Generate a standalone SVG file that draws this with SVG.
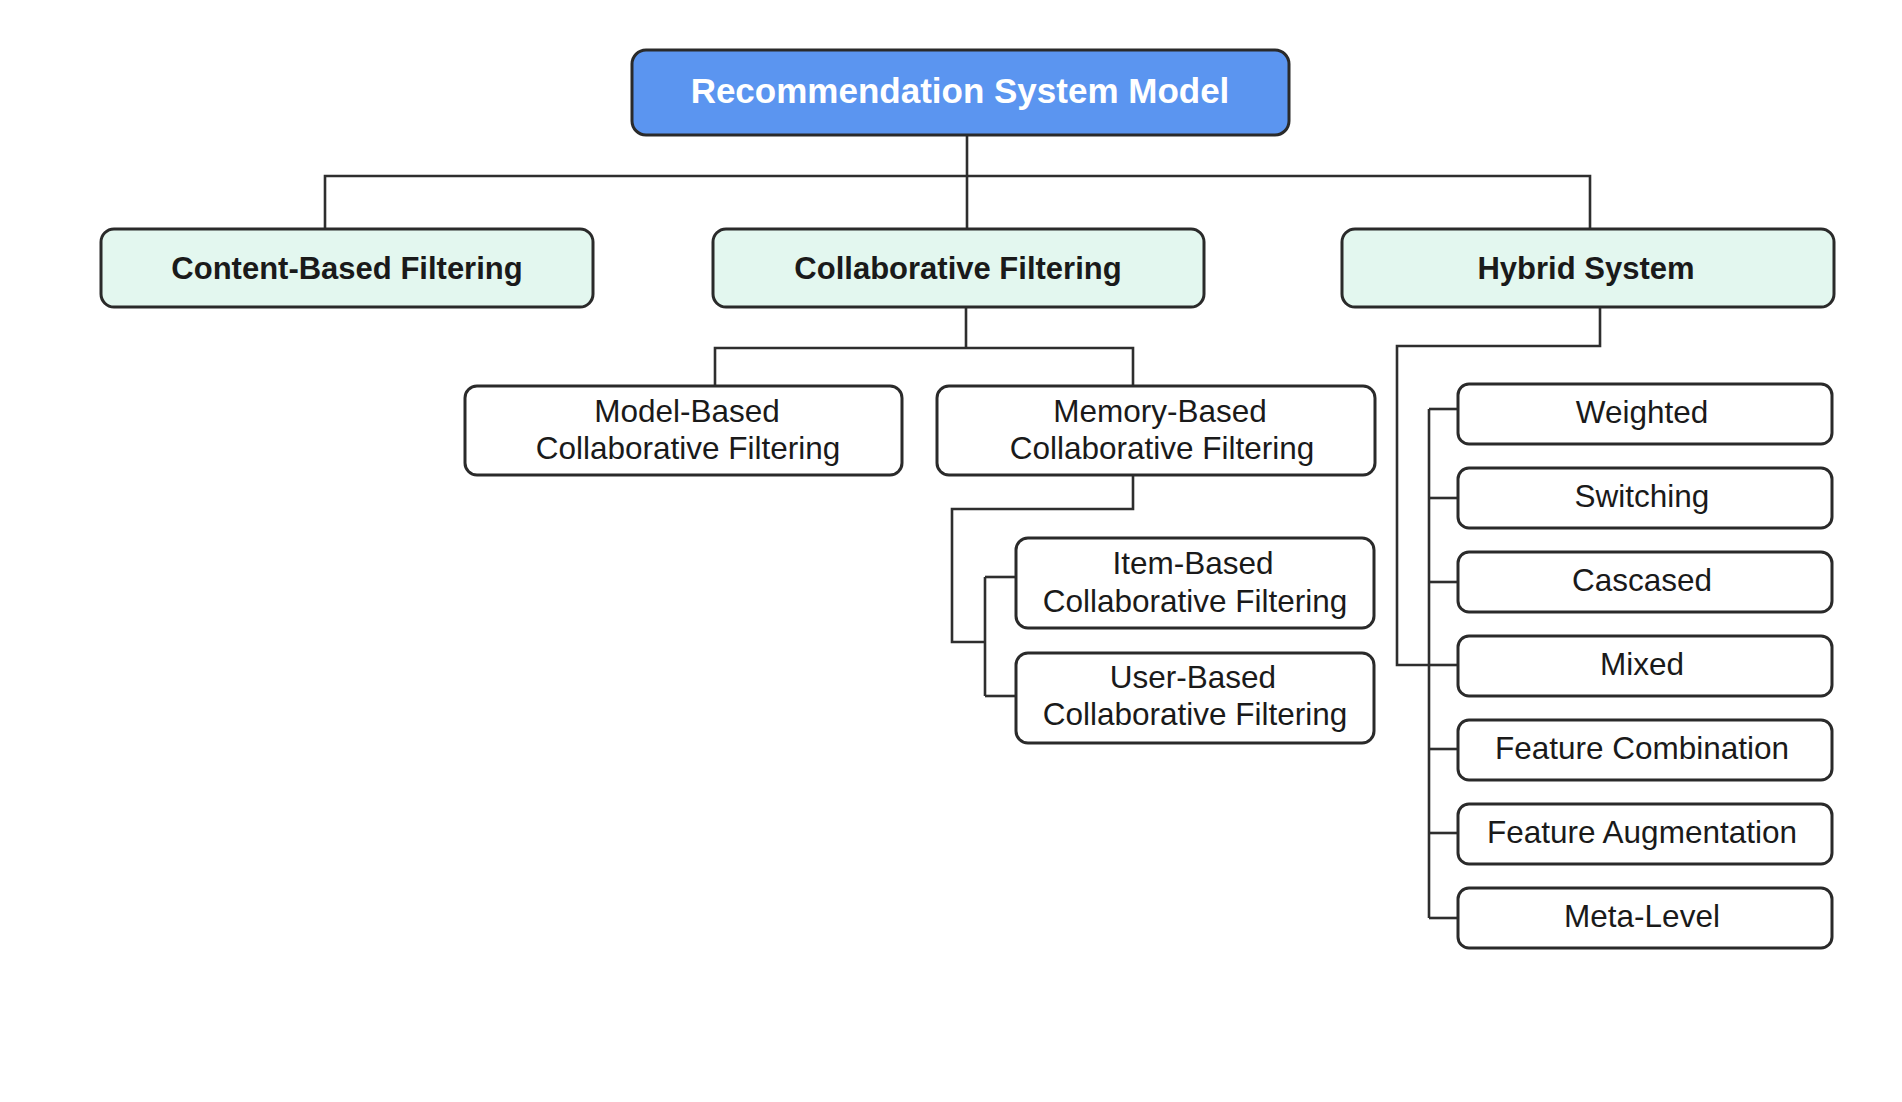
<svg xmlns="http://www.w3.org/2000/svg" width="1902" height="1102" viewBox="0 0 1902 1102">
<style>
.bx{stroke:#2a2a2a;stroke-width:3}
.root{fill:#5b95f0}
.l2{fill:#e3f7ef}
.l3{fill:#ffffff}
.conn{fill:none;stroke:#2e2e2e;stroke-width:2.6}
text{font-family:"Liberation Sans",Arial,Helvetica,sans-serif;text-anchor:middle;fill:#1a1a1a}
.tr{font-size:35px;font-weight:bold;fill:#ffffff}
.t2{font-size:31px;font-weight:bold}
.t3{font-size:31.5px}
</style>
<rect width="1902" height="1102" fill="#ffffff"/>
<g id="connectors" class="conn">
<path d="M967 135V228"/>
<path d="M325 228V176H1590V228"/>
<path d="M966 307V348"/>
<path d="M715 386V348H1133V386"/>
<path d="M1133 475V509H952V642H985"/>
<path d="M985 577V696"/>
<path d="M985 577H1016"/>
<path d="M985 696H1016"/>
<path d="M1600 307V346H1397V665H1429"/>
<path d="M1429 409V918"/>
<path d="M1429 409H1458"/>
<path d="M1429 498H1458"/>
<path d="M1429 582H1458"/>
<path d="M1429 665H1458"/>
<path d="M1429 749H1458"/>
<path d="M1429 833H1458"/>
<path d="M1429 918H1458"/>
</g>
<g id="root">
<rect class="bx root" x="632" y="50" width="657" height="85" rx="14"/>
<text class="tr" x="960" y="103">Recommendation System Model</text>
</g>
<g id="content-based">
<rect class="bx l2" x="101" y="229" width="492" height="78" rx="13"/>
<text class="t2" x="347" y="279">Content-Based Filtering</text>
</g>
<g id="collaborative">
<rect class="bx l2" x="713" y="229" width="491" height="78" rx="13"/>
<text class="t2" x="958" y="279">Collaborative Filtering</text>
</g>
<g id="hybrid">
<rect class="bx l2" x="1342" y="229" width="492" height="78" rx="13"/>
<text class="t2" x="1586" y="279">Hybrid System</text>
</g>
<g id="model-based">
<rect class="bx l3" x="465" y="386" width="437" height="89" rx="12"/>
<text class="t3" x="687" y="422">Model-Based</text>
<text class="t3" x="688" y="459">Collaborative Filtering</text>
</g>
<g id="memory-based">
<rect class="bx l3" x="937" y="386" width="438" height="89" rx="12"/>
<text class="t3" x="1160" y="422">Memory-Based</text>
<text class="t3" x="1162" y="459">Collaborative Filtering</text>
</g>
<g id="item-based">
<rect class="bx l3" x="1016" y="538" width="358" height="90" rx="12"/>
<text class="t3" x="1193" y="574">Item-Based</text>
<text class="t3" x="1195" y="612">Collaborative Filtering</text>
</g>
<g id="user-based">
<rect class="bx l3" x="1016" y="653" width="358" height="90" rx="12"/>
<text class="t3" x="1193" y="688">User-Based</text>
<text class="t3" x="1195" y="725">Collaborative Filtering</text>
</g>
<g id="weighted">
<rect class="bx l3" x="1458" y="384" width="374" height="60" rx="11"/>
<text class="t3" x="1642" y="423">Weighted</text>
</g>
<g id="switching">
<rect class="bx l3" x="1458" y="468" width="374" height="60" rx="11"/>
<text class="t3" x="1642" y="507">Switching</text>
</g>
<g id="cascased">
<rect class="bx l3" x="1458" y="552" width="374" height="60" rx="11"/>
<text class="t3" x="1642" y="591">Cascased</text>
</g>
<g id="mixed">
<rect class="bx l3" x="1458" y="636" width="374" height="60" rx="11"/>
<text class="t3" x="1642" y="675">Mixed</text>
</g>
<g id="feature-combination">
<rect class="bx l3" x="1458" y="720" width="374" height="60" rx="11"/>
<text class="t3" x="1642" y="759">Feature Combination</text>
</g>
<g id="feature-augmentation">
<rect class="bx l3" x="1458" y="804" width="374" height="60" rx="11"/>
<text class="t3" x="1642" y="843">Feature Augmentation</text>
</g>
<g id="meta-level">
<rect class="bx l3" x="1458" y="888" width="374" height="60" rx="11"/>
<text class="t3" x="1642" y="927">Meta-Level</text>
</g>
</svg>
